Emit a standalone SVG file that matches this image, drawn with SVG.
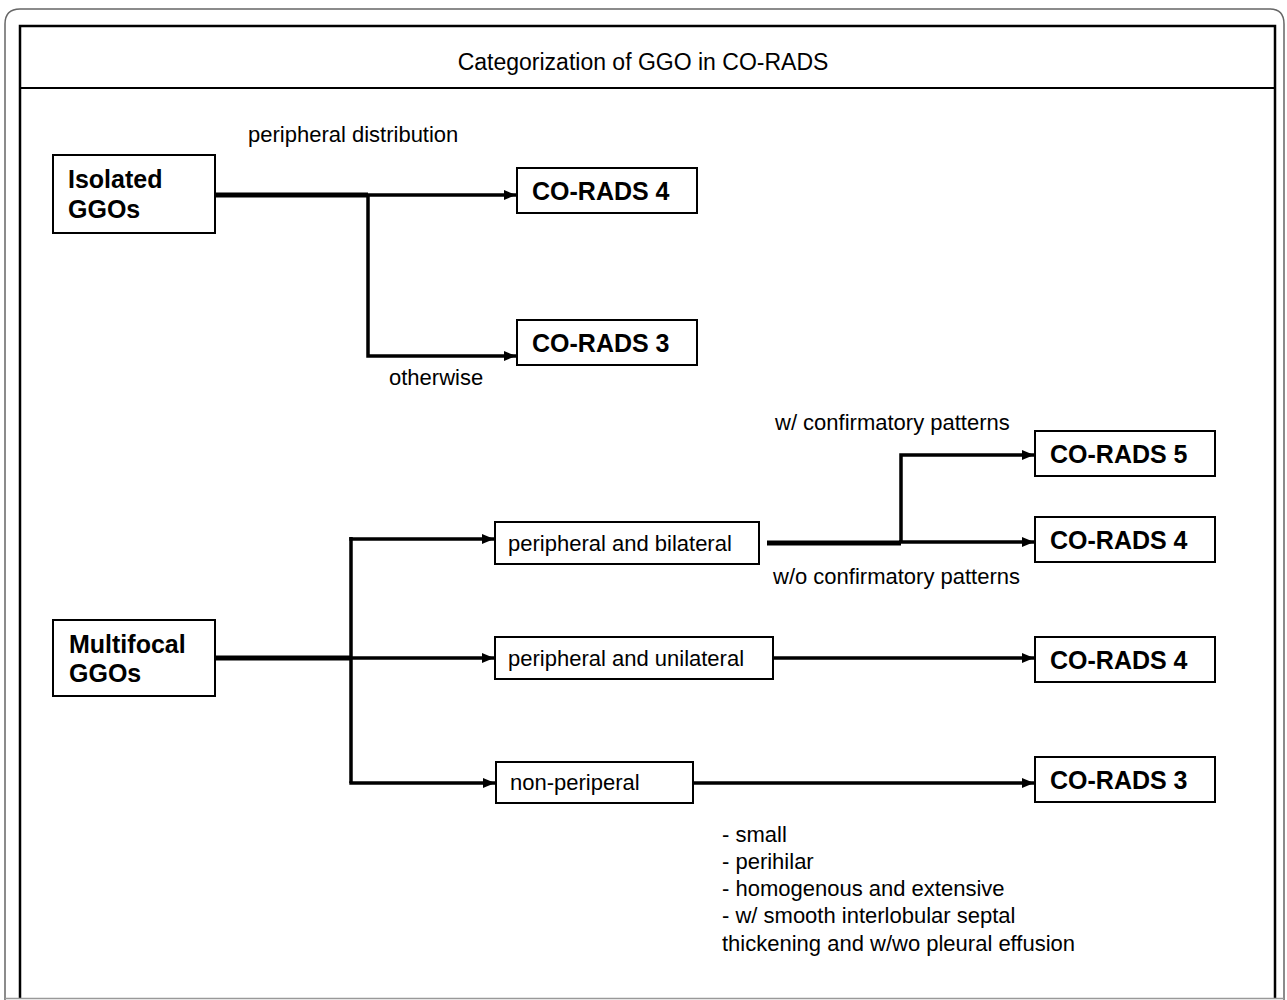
<svg xmlns="http://www.w3.org/2000/svg" width="1287" height="1000" viewBox="0 0 1287 1000">
<style>
.box{fill:#fff;stroke:#000;stroke-width:2}
.b{font-family:"Liberation Sans",Arial,sans-serif;font-weight:bold;font-size:25px;fill:#000}
.r{font-family:"Liberation Sans",Arial,sans-serif;font-size:22px;fill:#000}
.thick{fill:none;stroke:#000;stroke-width:5}
.thin{fill:none;stroke:#000;stroke-width:3.5}
</style>
<defs>
<marker id="ah" markerUnits="userSpaceOnUse" markerWidth="12" markerHeight="10" refX="12" refY="5" orient="auto">
<path d="M0,0 L12,5 L0,10 z" fill="#000"/>
</marker>
</defs>
<rect x="0" y="0" width="1287" height="1000" fill="#fff"/>
<g id="frame">
<path d="M5,1000 V24 Q5,9 20,9 H1270 Q1284,9 1284,24 V1000" fill="none" stroke="#666" stroke-width="1.5"/>
<path d="M20,998 V26 H1275 V998" fill="none" stroke="#000" stroke-width="2.5"/>
<line x1="20" y1="88" x2="1275" y2="88" stroke="#000" stroke-width="2"/>
<line x1="5" y1="998.5" x2="1284" y2="998.5" stroke="#999" stroke-width="1.5"/>
<text class="r" x="643" y="70" text-anchor="middle" style="font-size:23px">Categorization of GGO in CO-RADS</text>
</g>
<g id="connectors">
<path class="thick" d="M215,195 H368"/>
<path class="thin" d="M366,195 H516" marker-end="url(#ah)"/>
<path class="thin" d="M368,195 V356 H516" marker-end="url(#ah)"/>
<path class="thick" d="M215,658 H351"/>
<path class="thin" d="M351,537 V783"/>
<path class="thin" d="M349.3,539 H494" marker-end="url(#ah)"/>
<path class="thin" d="M351,658 H494" marker-end="url(#ah)"/>
<path class="thin" d="M349.3,783 H495" marker-end="url(#ah)"/>
<path class="thick" d="M767,543 H901"/>
<path class="thin" d="M899,542 H1034" marker-end="url(#ah)"/>
<path class="thin" d="M901,543 V455 H1034" marker-end="url(#ah)"/>
<path class="thin" d="M773,658 H1034" marker-end="url(#ah)"/>
<path class="thin" d="M693,783 H1034" marker-end="url(#ah)"/>
<text class="r" x="248" y="142">peripheral distribution</text>
<text class="r" x="389" y="385">otherwise</text>
<text class="r" x="775" y="430">w/ confirmatory patterns</text>
<text class="r" x="773" y="584">w/o confirmatory patterns</text>
</g>
<g id="isolated">
<rect class="box" x="53" y="155" width="162" height="78"/>
<text class="b" x="68" y="188">Isolated</text>
<text class="b" x="68" y="218">GGOs</text>
</g>
<g id="cr4a">
<rect class="box" x="517" y="168" width="180" height="45"/>
<text class="b" x="532" y="200">CO-RADS 4</text>
</g>
<g id="cr3a">
<rect class="box" x="517" y="320" width="180" height="45"/>
<text class="b" x="532" y="352">CO-RADS 3</text>
</g>
<g id="multifocal">
<rect class="box" x="53" y="620" width="162" height="76"/>
<text class="b" x="69" y="653">Multifocal</text>
<text class="b" x="69" y="682">GGOs</text>
</g>
<g id="bilateral">
<rect class="box" x="495" y="522" width="264" height="42"/>
<text class="r" x="508" y="551">peripheral and bilateral</text>
</g>
<g id="unilateral">
<rect class="box" x="495" y="637" width="278" height="42"/>
<text class="r" x="508" y="666">peripheral and unilateral</text>
</g>
<g id="nonperipheral">
<rect class="box" x="496" y="762" width="197" height="41"/>
<text class="r" x="510" y="790">non-periperal</text>
</g>
<g id="cr5">
<rect class="box" x="1035" y="431" width="180" height="45"/>
<text class="b" x="1050" y="463">CO-RADS 5</text>
</g>
<g id="cr4b">
<rect class="box" x="1035" y="517" width="180" height="45"/>
<text class="b" x="1050" y="549">CO-RADS 4</text>
</g>
<g id="cr4c">
<rect class="box" x="1035" y="637" width="180" height="45"/>
<text class="b" x="1050" y="669">CO-RADS 4</text>
</g>
<g id="cr3b">
<rect class="box" x="1035" y="757" width="180" height="45"/>
<text class="b" x="1050" y="789">CO-RADS 3</text>
</g>
<g id="notes">
<text class="r" x="722" y="842">- small</text>
<text class="r" x="722" y="869">- perihilar</text>
<text class="r" x="722" y="896">- homogenous and extensive</text>
<text class="r" x="722" y="923">- w/ smooth interlobular septal</text>
<text class="r" x="722" y="951">thickening and w/wo pleural effusion</text>
</g>
</svg>
